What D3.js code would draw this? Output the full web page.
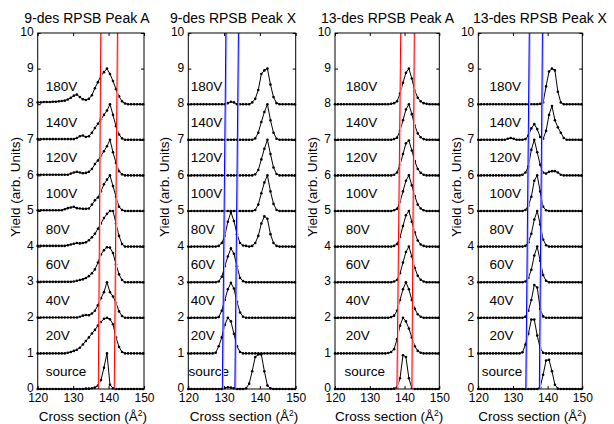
<!DOCTYPE html>
<html>
<head>
<meta charset="utf-8">
<script src="https://cdn.jsdelivr.net/npm/d3@7"></script>
<style>
  body { margin: 0; background: #fff; }
  text { font-family: Arial, "Liberation Sans", sans-serif; fill: #000; }
</style>
</head>
<body>
<script>
// sampling grid shared by every trace (cross section, A^2)
const xGrid = [120, 120.85, 121.7, 122.55, 123.4, 124.25, 125.1, 125.95, 126.8, 127.65, 128.5, 129.35,
  130.2, 131.05, 131.9, 132.75, 133.6, 134.45, 135.3, 136.15, 137, 137.85, 138.7, 139.55,
  140.4, 141.25, 142.1, 142.95, 143.8, 144.65, 145.5, 146.35, 147.2, 148.05, 148.9, 149.75];

const voltages = ['source', '20V', '40V', '60V', '80V', '100V', '120V', '140V', '180V'];
const xTicks = [120, 130, 140, 150];
const yTicks = [0, 1, 2, 3, 4, 5, 6, 7, 8, 9, 10];

// normalised yields, one row per voltage (source .. 180V)
const yield9A = [
  [0,0,0,0,0,0, 0,0,0,0,0,0, 0,0,0,0,0.01,0.01, 0.02,0.04,0.1,0.25,0.6,1.0, 0.12,0.02,0,0,0,0, 0,0,0,0,0,0],
  [0,0,0,0,0,0, 0,0,0,0,0.02,0.04, 0.07,0.1,0.16,0.25,0.35,0.45, 0.56,0.66,0.78,0.88,0.97,1.0, 0.96,0.82,0.45,0.18,0.04,0, 0,0,0,0,0,0],
  [0.01,0.01,0.01,0.01,0.01,0.01, 0.01,0.01,0.01,0.01,0.01,0.01, 0.01,0.01,0.03,0.06,0.08,0.07, 0.12,0.2,0.35,0.55,0.72,1.0, 0.72,0.6,0.42,0.18,0.05,0, 0,0,0,0,0,0],
  [0.01,0.01,0.01,0.01,0.01,0.01, 0.01,0.01,0.01,0.01,0.01,0.01, 0.02,0.04,0.06,0.08,0.12,0.17, 0.25,0.36,0.55,0.78,0.9,0.98, 0.97,0.82,0.5,0.22,0.06,0, 0,0,0,0,0,0],
  [0.02,0.02,0.02,0.02,0.02,0.02, 0.02,0.02,0.02,0.02,0.04,0.06, 0.08,0.1,0.09,0.1,0.12,0.18, 0.26,0.36,0.5,0.65,0.8,0.92, 1.0,1.0,0.65,0.3,0.07,0, 0,0,0,0,0,0],
  [0.02,0.02,0.02,0.02,0.02,0.02, 0.02,0.02,0.02,0.05,0.08,0.1, 0.12,0.08,0.07,0.06,0.06,0.07, 0.18,0.3,0.38,0.55,0.75,0.88, 1.0,0.7,0.4,0.12,0.03,0, 0,0,0,0,0,0],
  [0.02,0.02,0.02,0.02,0.02,0.02, 0.02,0.02,0.02,0.02,0.02,0.05, 0.08,0.1,0.08,0.06,0.07,0.1, 0.18,0.32,0.42,0.55,0.68,0.82, 1.0,0.65,0.35,0.12,0.03,0, 0,0,0,0,0,0],
  [0.02,0.02,0.02,0.02,0.02,0.02, 0.02,0.02,0.02,0.02,0.02,0.02, 0.02,0.05,0.1,0.12,0.08,0.1, 0.2,0.33,0.45,0.58,0.7,0.82, 1.0,0.7,0.38,0.15,0.04,0, 0,0,0,0,0,0],
  [0.05,0.05,0.06,0.06,0.06,0.07, 0.07,0.08,0.09,0.1,0.13,0.18, 0.24,0.27,0.2,0.14,0.12,0.15, 0.25,0.45,0.62,0.8,0.9,1.0, 0.85,0.65,0.42,0.22,0.08,0.02, 0,0,0,0,0,0]
];

const yield9X = [
  [0,0,0,0,0,0, 0,0,0,0,0,0, 0.03,0.05,0.04,0.02,0,0, 0,0.02,0.15,0.5,0.9,0.97, 0.97,0.5,0.1,0.02,0,0, 0,0,0,0,0,0],
  [0,0,0,0,0,0, 0,0,0,0.02,0.2,0.45, 0.8,1.0,0.9,0.55,0.2,0.04, 0,0,0,0,0,0, 0,0,0,0,0,0, 0,0,0,0,0,0],
  [0,0,0,0,0,0, 0,0,0,0,0.02,0.2, 0.5,0.8,0.98,0.82,0.45,0.15, 0.03,0,0,0,0,0, 0,0,0,0,0,0, 0,0,0,0,0,0],
  [0,0,0,0,0,0, 0,0,0,0,0.02,0.15, 0.45,0.72,0.95,0.8,0.45,0.12, 0.03,0,0,0,0,0, 0,0,0,0,0,0, 0,0,0,0,0,0],
  [0,0,0,0,0,0, 0,0,0,0,0.02,0.1, 0.3,0.7,0.97,0.72,0.35,0.1, 0.03,0.02,0,0.02,0.1,0.3, 0.65,0.85,0.78,0.35,0.1,0.02, 0,0,0,0,0,0],
  [0,0,0,0,0,0, 0,0,0,0,0,0, 0,0,0,0,0,0, 0,0,0,0,0.03,0.18, 0.5,0.8,1.0,0.55,0.2,0.03, 0,0,0,0,0,0],
  [0,0,0,0,0,0, 0,0,0,0,0,0, 0,0,0,0,0,0, 0,0,0,0,0.03,0.15, 0.45,0.75,1.0,0.6,0.22,0.04, 0,0,0,0,0,0],
  [0,0,0,0,0,0, 0,0,0,0,0,0, 0,0,0,0,0,0, 0,0,0,0,0.04,0.2, 0.5,0.78,1.0,0.55,0.2,0.03, 0,0,0,0,0,0],
  [0,0,0,0,0,0, 0,0,0,0,0,0, 0,0.03,0.07,0.05,0,0, 0,0,0,0.05,0.15,0.4, 0.85,0.95,1.0,0.55,0.2,0.03, 0,0,0,0,0,0]
];

const yield13A = [
  [0,0,0,0,0,0, 0,0,0,0,0,0, 0,0,0,0,0,0, 0,0,0.01,0.05,0.3,0.95, 0.9,0.3,0.03,0,0,0, 0,0,0,0,0,0],
  [0,0,0,0,0,0, 0,0,0,0,0,0, 0,0,0,0,0,0, 0.01,0.04,0.12,0.4,0.78,1.0, 0.9,0.7,0.45,0.2,0.07,0.02, 0,0,0,0,0,0],
  [0,0,0,0,0,0, 0,0,0,0,0,0, 0,0,0,0,0,0, 0,0.02,0.06,0.2,0.5,0.8, 1.0,0.8,0.5,0.25,0.1,0.03, 0,0,0,0,0,0],
  [0,0,0,0,0,0, 0,0,0,0,0,0, 0,0,0,0,0,0, 0,0,0.02,0.06,0.25,0.55, 0.85,1.0,0.72,0.4,0.18,0.07, 0.02,0,0,0,0,0],
  [0,0,0,0,0,0, 0,0,0,0,0,0, 0,0,0,0,0,0, 0,0,0.02,0.07,0.27,0.58, 0.88,1.0,0.7,0.4,0.17,0.06, 0.02,0,0,0,0,0],
  [0,0,0,0,0,0, 0,0,0,0,0,0, 0,0,0,0,0,0, 0,0,0.02,0.06,0.25,0.55, 0.85,1.0,0.72,0.42,0.18,0.07, 0.02,0,0,0,0,0],
  [0,0,0,0,0,0, 0,0,0,0,0,0, 0,0,0,0,0,0, 0,0,0.02,0.08,0.3,0.6, 0.9,0.98,0.7,0.4,0.18,0.07, 0.02,0,0,0,0,0],
  [0,0,0,0,0,0, 0,0,0,0,0,0, 0,0,0,0,0,0, 0,0,0.02,0.06,0.25,0.55, 0.85,1.0,0.72,0.4,0.18,0.07, 0.02,0,0,0,0,0],
  [0,0,0,0,0,0, 0,0,0,0,0,0, 0,0,0,0,0,0, 0,0.01,0.03,0.08,0.3,0.6, 0.88,1.0,0.72,0.38,0.18,0.08, 0.03,0.01,0,0,0,0]
];

const yield13X = [
  [0,0,0,0,0,0, 0,0,0,0,0,0, 0,0,0,0,0,0, 0,0,0,0.05,0.4,0.8, 0.82,0.5,0.12,0.01,0,0, 0,0,0,0,0,0],
  [0,0,0,0,0,0, 0,0,0,0,0,0, 0,0,0,0.03,0.25,0.55, 0.95,0.95,0.5,0.15,0.02,0, 0,0,0,0,0,0, 0,0,0,0,0,0],
  [0,0,0,0,0,0, 0,0,0,0,0,0, 0,0,0,0,0.03,0.2, 0.5,0.92,0.85,0.25,0.04,0, 0,0,0,0,0,0, 0,0,0,0,0,0],
  [0,0,0,0,0,0, 0,0,0,0,0,0, 0,0,0,0,0.02,0.12, 0.35,0.75,1.0,0.6,0.2,0.04, 0,0,0,0,0,0, 0,0,0,0,0,0],
  [0,0,0,0,0,0, 0,0,0,0,0,0, 0,0,0,0,0.02,0.12, 0.36,0.76,1.0,0.62,0.2,0.04, 0,0,0,0,0,0, 0,0,0,0,0,0],
  [0,0,0,0,0,0, 0,0,0,0,0,0, 0,0,0,0,0.03,0.15, 0.4,0.85,1.0,0.55,0.12,0.02, 0,0,0,0,0,0, 0,0,0,0,0,0],
  [0,0,0,0,0,0, 0,0,0,0,0,0, 0,0,0,0.02,0.08,0.25, 0.72,1.0,0.65,0.3,0.08,0.05, 0.1,0.12,0.12,0.08,0.02,0, 0,0,0,0,0,0],
  [0,0,0,0,0,0, 0,0,0,0,0.03,0.05, 0.03,0,0,0,0.02,0.12, 0.32,0.44,0.3,0.08,0.03,0.25, 0.7,0.95,0.55,0.35,0.2,0.05, 0,0,0,0,0,0],
  [0,0,0,0,0,0, 0,0,0,0,0,0, 0,0,0,0,0,0, 0,0,0,0.01,0.05,0.5, 0.92,1.0,0.95,0.35,0.05,0, 0,0,0,0,0,0]
];

// guide lines: [x at yield 0, x at yield 10]
const guides9A = [[137.1, 137.8], [141.6, 142.5]];
const guides9X = [[129.5, 130.5], [133.0, 134.0]];
const guides13A = [[137.8, 138.9], [142.1, 142.8]];
const guides13X = [[133.7, 134.7], [137.6, 138.5]];

const W = 614, H = 424;
const plotTop = 33, plotBottom = 389;

const panels = [
  { title: '9-des RPSB Peak A', data: yield9A, guides: guides9A, color: '#ff0000', halo: '#ffc4c4',
    left: 37.7, right: 144, titleX: 87, yLabelX: 19.5, labelX: 122.3, sourceX: 122.3 },
  { title: '9-des RPSB Peak X', data: yield9X, guides: guides9X, color: '#0000ff', halo: '#b4b4ff',
    left: 188.3, right: 295.7, titleX: 233, yLabelX: 169, labelX: 120.7, sourceX: 120.05 },
  { title: '13-des RPSB Peak A', data: yield13A, guides: guides13A, color: '#ff0000', halo: '#ffc4c4',
    left: 335, right: 439.3, titleX: 387.5, yLabelX: 316.5, labelX: 123.1, sourceX: 122.7 },
  { title: '13-des RPSB Peak X', data: yield13X, guides: guides13X, color: '#0000ff', halo: '#b4b4ff',
    left: 478.3, right: 582.3, titleX: 540, yLabelX: 461, labelX: 123.2, sourceX: 121 }
];

const svg = d3.select('body').append('svg')
  .attr('width', W)
  .attr('height', H)
  .attr('viewBox', `0 0 ${W} ${H}`);

panels.forEach(p => {
  const x = d3.scaleLinear().domain([120, 150]).range([p.left, p.right]);
  const y = d3.scaleLinear().domain([0, 10]).range([plotBottom, plotTop]);
  const g = svg.append('g');

  // axes, MATLAB style ticks pointing inward on all four sides
  const bottom = g.append('g')
    .attr('transform', `translate(0,${plotBottom})`)
    .call(d3.axisBottom(x).tickValues(xTicks).tickSizeInner(-3).tickSizeOuter(0).tickPadding(4.5));
  const left = g.append('g')
    .attr('transform', `translate(${p.left},0)`)
    .call(d3.axisLeft(y).tickValues(yTicks).tickSizeInner(-3).tickSizeOuter(0).tickPadding(4));
  const top = g.append('g')
    .attr('transform', `translate(0,${plotTop})`)
    .call(d3.axisTop(x).tickValues(xTicks).tickSizeInner(-3).tickSizeOuter(0).tickFormat(''));
  const right = g.append('g')
    .attr('transform', `translate(${p.right},0)`)
    .call(d3.axisRight(y).tickValues(yTicks).tickSizeInner(-3).tickSizeOuter(0).tickFormat(''));

  [bottom, left, top, right].forEach(a => {
    a.select('.domain').remove();
    a.selectAll('line').attr('stroke', '#000');
    a.selectAll('text').style('font-size', '12px').attr('fill', '#000');
  });
  // y tick labels sit a touch above their ticks
  left.selectAll('text').attr('dy', '0.22em');

  // data traces, each offset by its index
  const line = d3.line()
    .x((d, i) => x(xGrid[i]))
    .y(d => y(d.v + d.off));

  p.data.forEach((vals, k) => {
    const pts = vals.map(v => ({ v: v, off: k }));
    g.append('path')
      .attr('d', line(pts))
      .attr('fill', 'none')
      .attr('stroke', '#000')
      .attr('stroke-width', 1);

    g.append('g').selectAll('circle')
      .data(pts)
      .enter()
      .append('circle')
      .attr('cx', (d, i) => x(xGrid[i]))
      .attr('cy', d => y(d.v + d.off))
      .attr('r', 1.3)
      .attr('fill', '#000');

    g.append('text')
      .attr('x', x(k === 0 ? p.sourceX : p.labelX))
      .attr('y', y(k + 0.5))
      .attr('dy', '0.35em')
      .style('font-size', '13.5px')
      .text(voltages[k]);
  });

  // peak window guide lines
  p.guides.forEach(gd => {
    g.append('line')
      .attr('x1', x(gd[0]) + 0.8).attr('y1', y(0))
      .attr('x2', x(gd[1]) + 0.8).attr('y2', y(10))
      .attr('stroke', p.halo).attr('stroke-width', 1.6);
    g.append('line')
      .attr('x1', x(gd[0])).attr('y1', y(0))
      .attr('x2', x(gd[1])).attr('y2', y(10))
      .attr('stroke', p.color).attr('stroke-width', 1);
  });

  // frame
  g.append('rect')
    .attr('x', p.left).attr('y', plotTop)
    .attr('width', p.right - p.left).attr('height', plotBottom - plotTop)
    .attr('fill', 'none').attr('stroke', '#000').attr('stroke-width', 1);

  // title
  g.append('text')
    .attr('x', p.titleX).attr('y', 22.5)
    .attr('text-anchor', 'middle')
    .style('font-size', '14px')
    .text(p.title);

  // y label
  g.append('text')
    .attr('transform', `translate(${p.yLabelX},187) rotate(-90)`)
    .attr('text-anchor', 'middle')
    .style('font-size', '13.5px')
    .text('Yield (arb. Units)');

  // x label with superscript 2
  const xl = g.append('text')
    .attr('x', (p.left + p.right) / 2 + 2).attr('y', 421)
    .attr('text-anchor', 'middle')
    .style('font-size', '13.5px');
  xl.append('tspan').text('Cross section (Å');
  xl.append('tspan').attr('dy', -5).style('font-size', '8.5px').text('2');
  xl.append('tspan').attr('dy', 5).text(')');
});
</script>
</body>
</html>
